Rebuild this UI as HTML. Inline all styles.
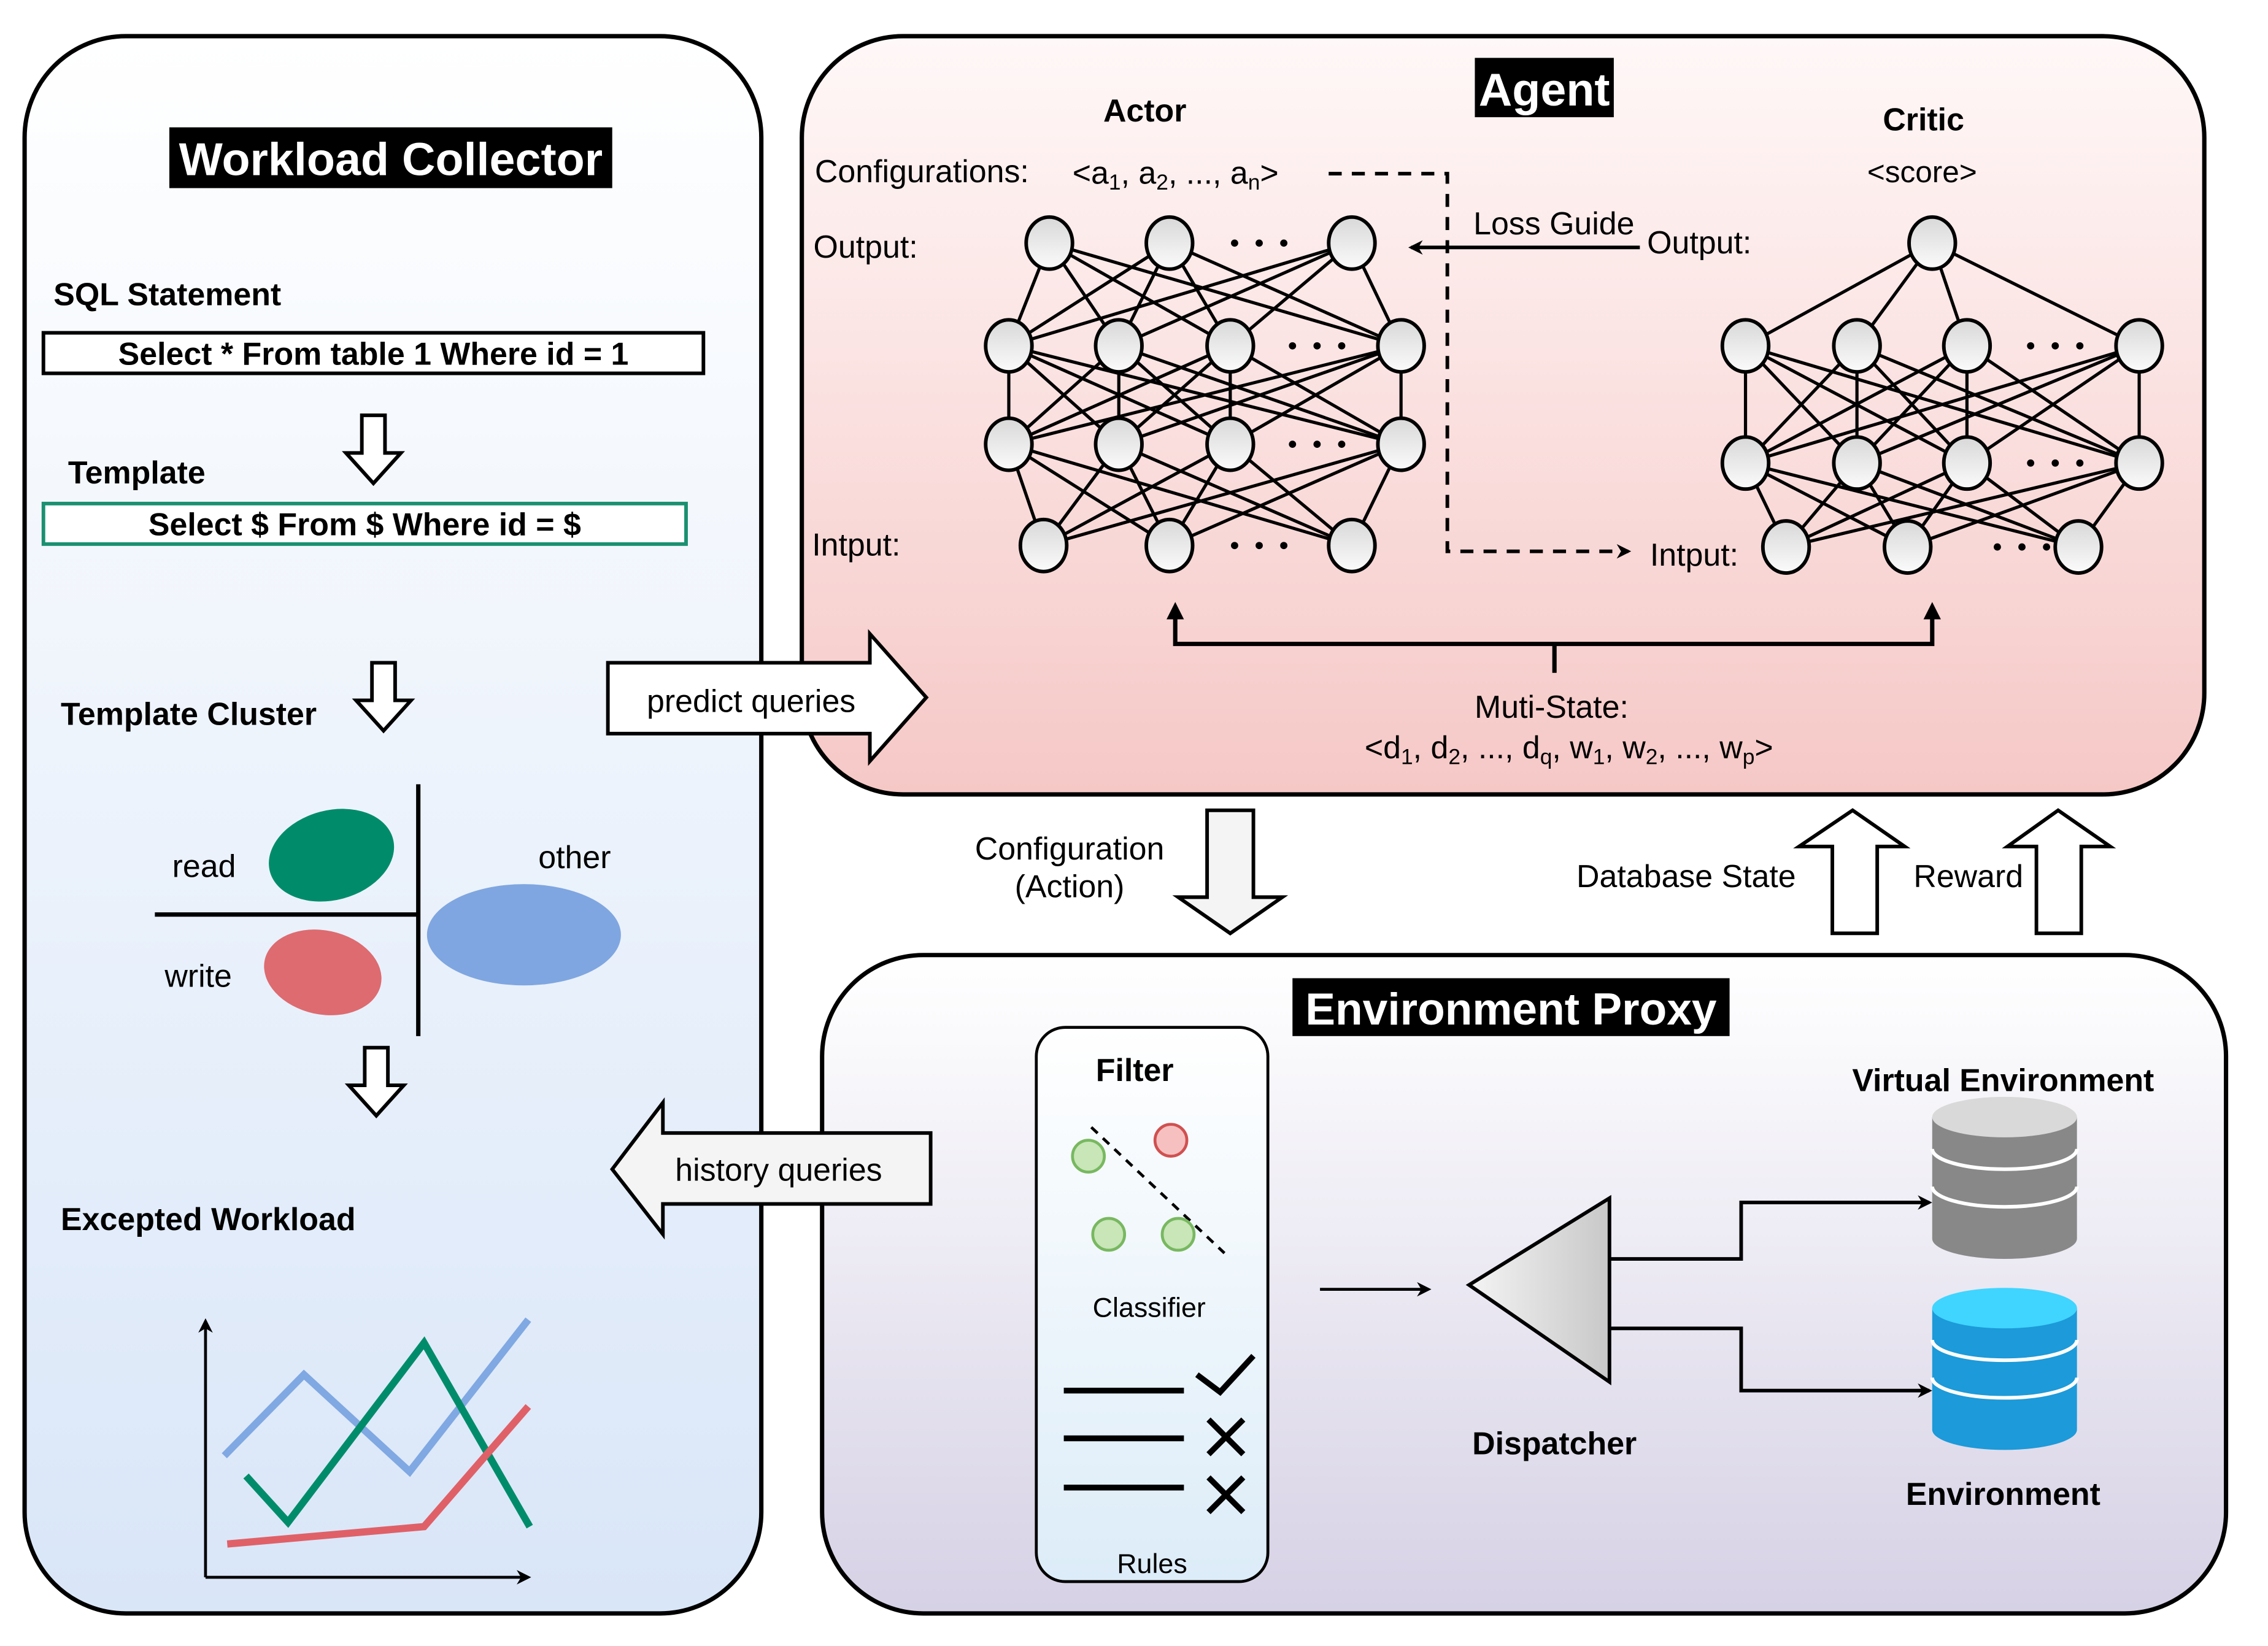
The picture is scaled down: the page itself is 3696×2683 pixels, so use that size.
<!DOCTYPE html>
<html><head><meta charset="utf-8"><style>
html,body{margin:0;padding:0;background:#fff}
svg{display:block}
text{font-family:"Liberation Sans","DejaVu Sans",sans-serif;fill:#000}
.b{font-weight:bold}
</style></head><body>
<svg id="s" width="3696" height="2683" viewBox="0 0 1567 1137.5" preserveAspectRatio="none" xmlns="http://www.w3.org/2000/svg">
<defs>
<linearGradient id="gl" x1="0" y1="0" x2="0" y2="1"><stop offset="0" stop-color="#ffffff"/><stop offset="1" stop-color="#d9e6f8"/></linearGradient>
<linearGradient id="ga" x1="0" y1="0" x2="0" y2="1"><stop offset="0" stop-color="#fff8f8"/><stop offset="1" stop-color="#f5c8c6"/></linearGradient>
<linearGradient id="ge" x1="0" y1="0" x2="0" y2="1"><stop offset="0" stop-color="#ffffff"/><stop offset="1" stop-color="#d6d1e5"/></linearGradient>
<linearGradient id="gf" x1="0" y1="0" x2="0" y2="1"><stop offset="0" stop-color="#ffffff"/><stop offset="1" stop-color="#dcecf8"/></linearGradient>
<linearGradient id="gn" x1="0" y1="0" x2="0" y2="1"><stop offset="0" stop-color="#d8d8d8"/><stop offset="1" stop-color="#fbfbfb"/></linearGradient>
<linearGradient id="gt" x1="0" y1="0" x2="1" y2="0"><stop offset="0" stop-color="#f4f4f4"/><stop offset="1" stop-color="#c8c8c8"/></linearGradient>
<marker id="ar" markerWidth="10" markerHeight="10" refX="8" refY="5" orient="auto" markerUnits="userSpaceOnUse"><path d="M0,0 L10,5 L0,10 L3,5Z" fill="#000"/></marker>
</defs>

<rect x="17" y="25" width="509" height="1090" rx="70" fill="url(#gl)" stroke="#000" stroke-width="3"/>
<rect x="117" y="88" width="306" height="42" fill="#000"/>
<text x="270" y="121" text-anchor="middle" class="b" font-size="32" style="fill:#fff">Workload Collector</text>
<text x="37" y="211" class="b" font-size="22">SQL Statement</text>
<rect x="30" y="230" width="456" height="28" fill="#fff" stroke="#000" stroke-width="2.5"/>
<text x="258" y="252" text-anchor="middle" class="b" font-size="22">Select * From table 1  Where id = 1</text>
<text x="47" y="334" class="b" font-size="22">Template</text>
<rect x="30" y="348" width="444" height="28" fill="#fff" stroke="#1a9070" stroke-width="2.5"/>
<text x="252" y="370" text-anchor="middle" class="b" font-size="22">Select $ From $ Where id = $</text>
<text x="42" y="501" class="b" font-size="22">Template Cluster</text>
<path d="M250,287 h16 v26 h11 l-19,21 l-19,-21 h11z" fill="#fff" stroke="#000" stroke-width="2.5"/>
<path d="M257,458 h16 v26 h11 l-19,21 l-19,-21 h11z" fill="#fff" stroke="#000" stroke-width="2.5"/>
<path d="M252,724 h16 v26 h11 l-19,21 l-19,-21 h11z" fill="#fff" stroke="#000" stroke-width="2.5"/>
<line x1="289" y1="542" x2="289" y2="716" stroke="#000" stroke-width="3"/>
<line x1="107" y1="632" x2="289" y2="632" stroke="#000" stroke-width="3"/>
<ellipse cx="229" cy="591" rx="44" ry="31" transform="rotate(-15 229 591)" fill="#008c6a"/>
<ellipse cx="223" cy="672" rx="41" ry="29" transform="rotate(12 223 672)" fill="#dd6b70"/>
<ellipse cx="362" cy="646" rx="67" ry="35" fill="#7fa6e0"/>
<text x="141" y="606" text-anchor="middle" font-size="22">read</text>
<text x="137" y="682" text-anchor="middle" font-size="22">write</text>
<text x="397" y="600" text-anchor="middle" font-size="22">other</text>
<text x="42" y="850" class="b" font-size="22">Excepted Workload</text>
<line x1="142" y1="1090" x2="142" y2="913" stroke="#000" stroke-width="2" marker-end="url(#ar)"/>
<line x1="142" y1="1090" x2="365" y2="1090" stroke="#000" stroke-width="2" marker-end="url(#ar)"/>
<polyline points="155,1006 210,950 283,1017 365,912" fill="none" stroke="#80a8e2" stroke-width="5"/>
<polyline points="170,1020 199,1052 293,928 366,1055" fill="none" stroke="#008c6a" stroke-width="5"/>
<polyline points="157,1067 293,1055 365,972" fill="none" stroke="#e06068" stroke-width="5"/>

<rect x="554" y="25" width="969" height="524" rx="70" fill="url(#ga)" stroke="#000" stroke-width="3"/>
<rect x="1019" y="40" width="96" height="41" fill="#000"/>
<text x="1067" y="73" text-anchor="middle" class="b" font-size="32" style="fill:#fff">Agent</text>
<text x="791" y="84" text-anchor="middle" class="b" font-size="22">Actor</text>
<text x="1329" y="90" text-anchor="middle" class="b" font-size="22">Critic</text>
<text x="563" y="126" font-size="22">Configurations:</text>
<text x="741" y="127" font-size="22">&lt;a<tspan font-size="15" dy="4">1</tspan><tspan dy="-4">, a</tspan><tspan font-size="15" dy="4">2</tspan><tspan dy="-4">, ..., a</tspan><tspan font-size="15" dy="4">n</tspan><tspan dy="-4">&gt;</tspan></text>
<text x="562" y="178" font-size="22">Output:</text>
<text x="561" y="384" font-size="22">Intput:</text>
<text x="1018" y="162" font-size="22">Loss Guide</text>
<text x="1138" y="175" font-size="22">Output:</text>
<text x="1328" y="126" text-anchor="middle" font-size="21">&lt;score&gt;</text>
<text x="1140" y="391" font-size="22">Intput:</text>
<path d="M918,120 H1000 V381 H1125" fill="none" stroke="#000" stroke-width="2.5" stroke-dasharray="9,7" marker-end="url(#ar)"/>
<line x1="1133" y1="171" x2="975" y2="171" stroke="#000" stroke-width="2.5" marker-end="url(#ar)"/>
<g id="net"></g>
<path d="M812,420 V445 H1335 V420" fill="none" stroke="#000" stroke-width="3"/>
<path d="M806,428 L812,416 L818,428Z M1329,428 L1335,416 L1341,428Z"/>
<line x1="1074" y1="445" x2="1074" y2="465" stroke="#000" stroke-width="3"/>
<text x="1072" y="496" text-anchor="middle" font-size="22">Muti-State:</text>
<text x="1084" y="524" text-anchor="middle" font-size="22">&lt;d<tspan font-size="15" dy="4">1</tspan><tspan dy="-4">, d</tspan><tspan font-size="15" dy="4">2</tspan><tspan dy="-4">, ..., d</tspan><tspan font-size="15" dy="4">q</tspan><tspan dy="-4">, w</tspan><tspan font-size="15" dy="4">1</tspan><tspan dy="-4">, w</tspan><tspan font-size="15" dy="4">2</tspan><tspan dy="-4">, ..., w</tspan><tspan font-size="15" dy="4">p</tspan><tspan dy="-4">&gt;</tspan></text>

<path d="M420,458 H601 V438 L640,482 L601,526 V507 H420Z" fill="#fff" stroke="#000" stroke-width="2.5"/>
<text x="519" y="492" text-anchor="middle" font-size="22">predict queries</text>
<text x="739" y="594" text-anchor="middle" font-size="22">Configuration</text>
<text x="739" y="620" text-anchor="middle" font-size="22">(Action)</text>
<path d="M834,560 H866 V620 H886 L850,645 L814,620 H834Z" fill="#f4f4f4" stroke="#000" stroke-width="2.5"/>
<text x="1165" y="613" text-anchor="middle" font-size="22">Database State</text>
<path d="M1266,645 V585 H1243 L1280,560 L1316,585 H1297 V645Z" fill="#fff" stroke="#000" stroke-width="2.5"/>
<text x="1360" y="613" text-anchor="middle" font-size="22">Reward</text>
<path d="M1407,645 V585 H1387 L1422,560 L1458,585 H1438 V645Z" fill="#fff" stroke="#000" stroke-width="2.5"/>

<rect x="568" y="660" width="970" height="455" rx="70" fill="url(#ge)" stroke="#000" stroke-width="3"/>
<rect x="893" y="676" width="302" height="40" fill="#000"/>
<text x="1044" y="708" text-anchor="middle" class="b" font-size="31" style="fill:#fff">Environment Proxy</text>
<rect x="716" y="710" width="160" height="383" rx="20" fill="url(#gf)" stroke="#000" stroke-width="2"/>
<text x="784" y="747" text-anchor="middle" class="b" font-size="22">Filter</text>
<line x1="754" y1="779" x2="846" y2="866" stroke="#000" stroke-width="2" stroke-dasharray="6,5"/>
<g stroke="#78b860" stroke-width="2" fill="#c8e6b8"><circle cx="752" cy="799" r="11"/><circle cx="766" cy="853" r="11"/><circle cx="814" cy="853" r="11"/></g>
<circle cx="809" cy="788" r="11" fill="#f6c0c0" stroke="#d05050" stroke-width="2"/>
<text x="794" y="910" text-anchor="middle" font-size="19">Classifier</text>
<g stroke="#000" stroke-width="4"><line x1="735" y1="961" x2="818" y2="961"/><line x1="735" y1="994" x2="818" y2="994"/><line x1="735" y1="1028" x2="818" y2="1028"/>
<polyline points="827,950 843,962 866,937" fill="none"/>
<line x1="835" y1="981" x2="859" y2="1005"/><line x1="859" y1="981" x2="835" y2="1005"/>
<line x1="835" y1="1021" x2="859" y2="1045"/><line x1="859" y1="1021" x2="835" y2="1045"/></g>
<text x="796" y="1087" text-anchor="middle" font-size="19">Rules</text>
<line x1="912" y1="891" x2="987" y2="891" stroke="#000" stroke-width="2" marker-end="url(#ar)"/>
<polygon points="1015,888 1112,828 1112,955" fill="url(#gt)" stroke="#000" stroke-width="2.5"/>
<text x="1074" y="1005" text-anchor="middle" class="b" font-size="22">Dispatcher</text>
<path d="M1112,870 H1203 V831 H1333" fill="none" stroke="#000" stroke-width="2.5" marker-end="url(#ar)"/>
<path d="M1112,918 H1203 V961 H1333" fill="none" stroke="#000" stroke-width="2.5" marker-end="url(#ar)"/>
<g id="db"></g>
<text x="1384" y="754" text-anchor="middle" class="b" font-size="22">Virtual Environment</text>
<text x="1384" y="1040" text-anchor="middle" class="b" font-size="22">Environment</text>
<path d="M643,783 H458 V762 L423,808 L458,853 V832 H643Z" fill="#f4f4f4" stroke="#000" stroke-width="2.5"/>
<text x="538" y="816" text-anchor="middle" font-size="22">history queries</text>
</svg>
<script>
var NS="http://www.w3.org/2000/svg";
function el(p,t,a){var e=document.createElementNS(NS,t);for(var k in a)e.setAttribute(k,a[k]);p.appendChild(e);return e;}
var net=document.getElementById('net');
function layer(xs,y){return xs.map(function(x){return [x,y];});}
function build(Ls,dots){
 for(var i=0;i<Ls.length-1;i++){var A=Ls[i],B=Ls[i+1];
  A.forEach(function(a){B.forEach(function(b){el(net,'line',{x1:a[0],y1:a[1],x2:b[0],y2:b[1],stroke:'#000','stroke-width':2.2});});});}
 Ls.forEach(function(L){L.forEach(function(p){el(net,'ellipse',{cx:p[0],cy:p[1],rx:16,ry:18,fill:'url(#gn)',stroke:'#000','stroke-width':2.5});});});
 dots.forEach(function(d){[-17,0,17].forEach(function(o){el(net,'circle',{cx:d[0]+o,cy:d[1],r:2.5,fill:'#000'});});});
}
build([layer([725,808,934],168),layer([697,773,850,968],239),layer([697,773,850,968],307),layer([721,808,934],377)],[[870,168],[910,239],[910,307],[870,377]]);
build([layer([1335],168),layer([1206,1283,1359,1478],239),layer([1206,1283,1359,1478],320),layer([1234,1318,1436],378)],[[1420,239],[1420,320],[1397,378]]);
var db=document.getElementById('db');
function cyl(y,top,body){var x=1335,w=100,cx=1385,rx=50,ry=14,h=84;
 el(db,'path',{d:'M'+x+','+(y+ry)+' V'+(y+ry+h)+' A'+rx+','+ry+' 0 0 0 '+(x+w)+','+(y+ry+h)+' V'+(y+ry)+'Z',fill:body});
 [30,56].forEach(function(o){el(db,'path',{d:'M'+x+','+(y+ry+o-8)+' A'+rx+','+ry+' 0 0 0 '+(x+w)+','+(y+ry+o-8),fill:'none',stroke:'#fff','stroke-width':2.5});});
 el(db,'ellipse',{cx:cx,cy:y+ry,rx:rx,ry:ry,fill:top});}
cyl(758,'#d9d9d9','#888888');
cyl(890,'#3fd5ff','#1c9ad9');
</script>
</body></html>
